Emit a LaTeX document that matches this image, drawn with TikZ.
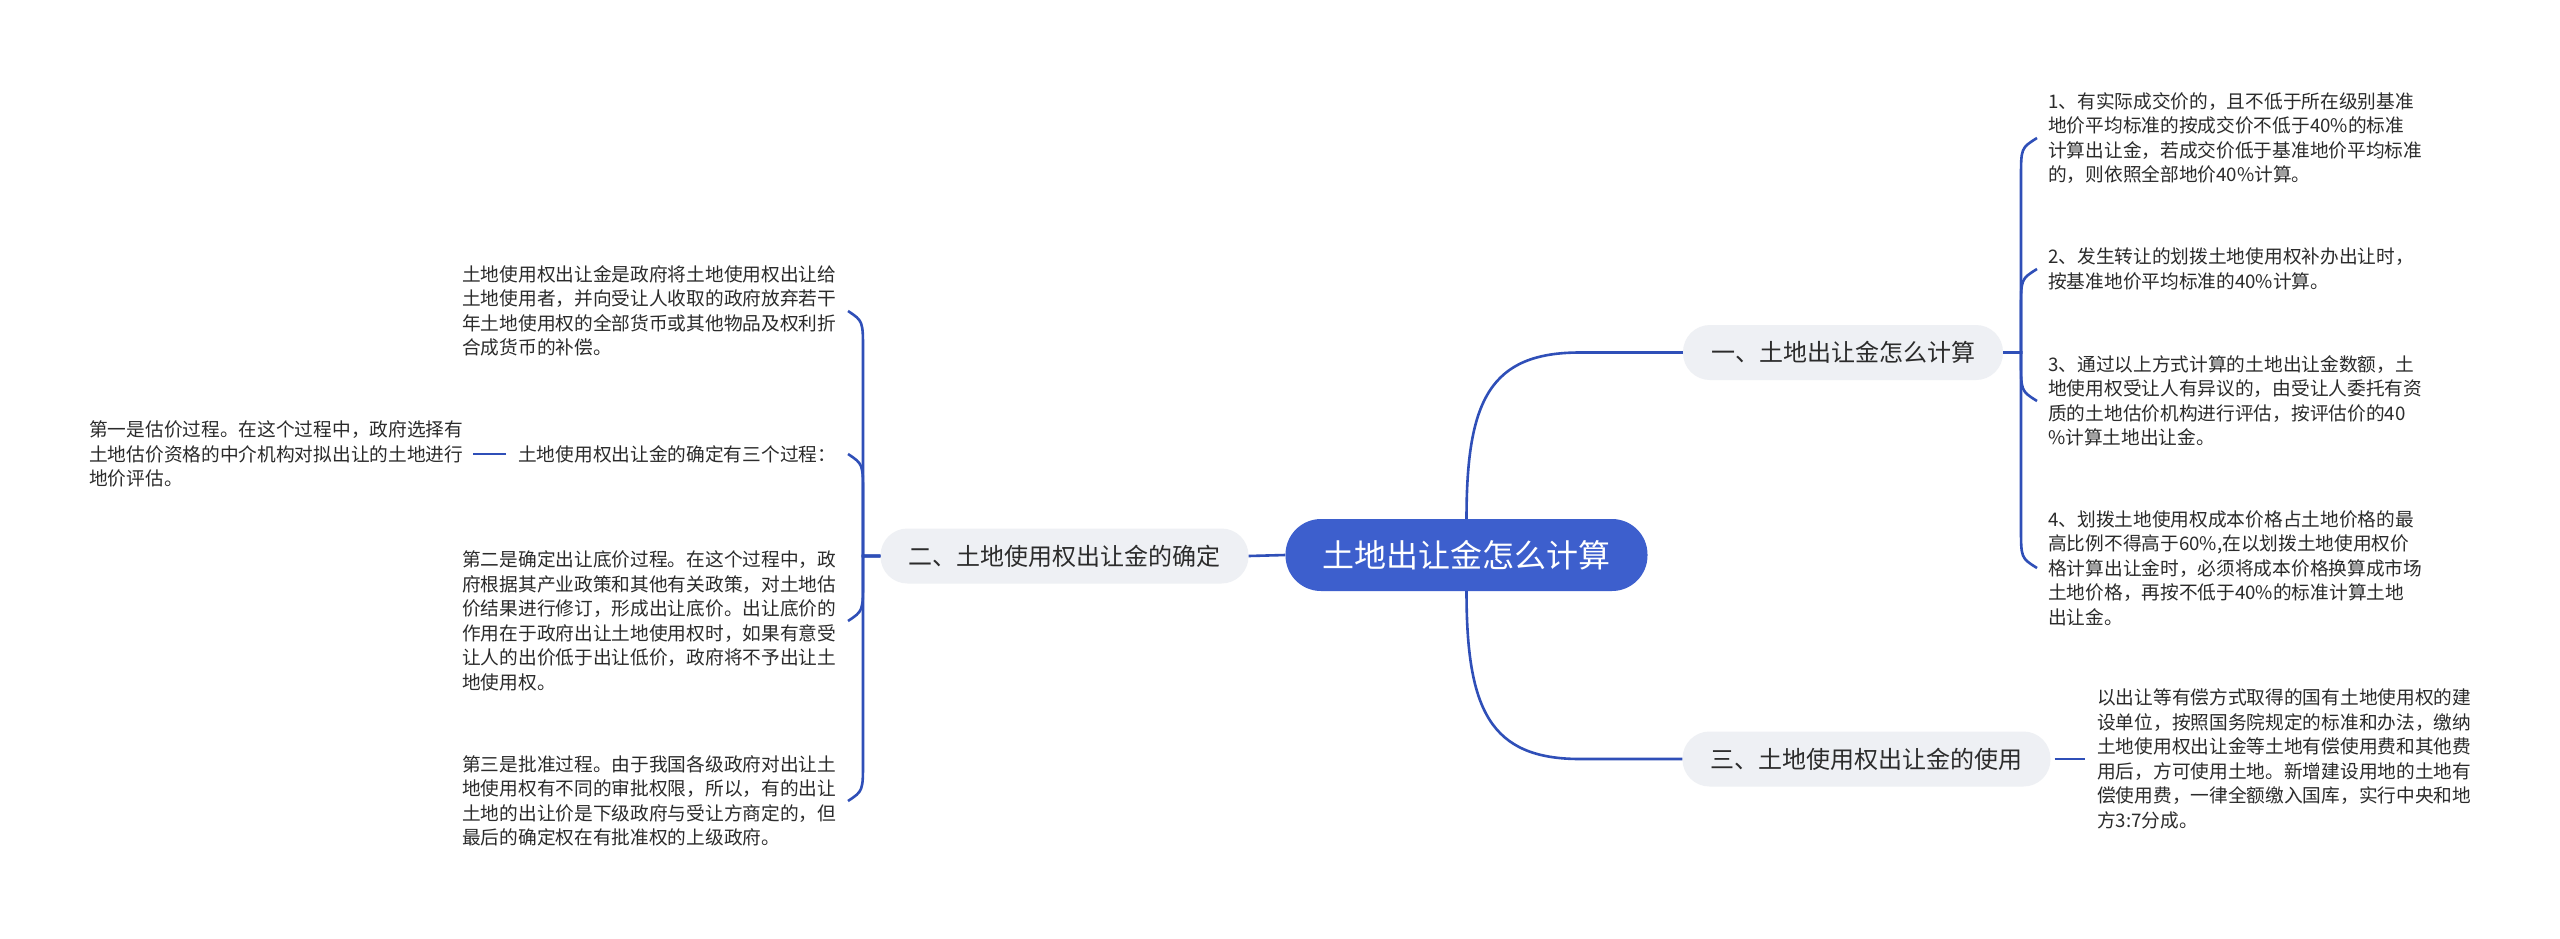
\documentclass[tikz,border=0pt]{standalone}
\usepackage{fontspec}
\setmainfont{Noto Sans CJK SC}
\definecolor{linec}{HTML}{2F4FB8}
\definecolor{centerc}{HTML}{3D5FCD}
\definecolor{graybg}{HTML}{EEF0F4}
\definecolor{txt}{HTML}{2B2B2B}
\begin{document}
\begin{tikzpicture}[x=1pt,y=-1pt,
 conn/.style={draw=linec,line width=2.6pt},
 root/.style={fill=centerc,text=white,rounded corners=35.5pt,minimum height=72pt,inner xsep=37pt,inner ysep=0pt,font=\fontsize{32pt}{36pt}\selectfont},
 branch/.style={fill=graybg,text=txt,rounded corners=27pt,minimum height=55pt,inner xsep=28pt,inner ysep=0pt,font=\fontsize{24pt}{28pt}\selectfont},
 leaf/.style={text=txt,align=left,inner sep=0pt,anchor=west,font=\fontsize{18.7pt}{24.5pt}\selectfont}]
\useasboundingbox (0,0) rectangle (2560,938);
\fill[white] (0,0) rectangle (2560,938);

% main nodes
\node[root] (c) at (1466.5,555) {土地出让金怎么计算};
\node[branch] (n1) at (1843,352.5) {一、土地出让金怎么计算};
\node[branch] (n2) at (1064.5,556) {二、土地使用权出让金的确定};
\node[branch] (n3) at (1866.5,759) {三、土地使用权出让金的使用};

% right leaves
\node[leaf] (r1) at (2048,138) {1、有实际成交价的，且不低于所在级别基准\\地价平均标准的按成交价不低于40\%的标准\\计算出让金，若成交价低于基准地价平均标准\\的，则依照全部地价40\%计算。};
\node[leaf] (r2) at (2048,269) {2、发生转让的划拨土地使用权补办出让时，\\按基准地价平均标准的40\%计算。};
\node[leaf] (r3) at (2048,401) {3、通过以上方式计算的土地出让金数额，土\\地使用权受让人有异议的，由受让人委托有资\\质的土地估价机构进行评估，按评估价的40\\\%计算土地出让金。};
\node[leaf] (r4) at (2048,568) {4、划拨土地使用权成本价格占土地价格的最\\高比例不得高于60\%,在以划拨土地使用权价\\格计算出让金时，必须将成本价格换算成市场\\土地价格，再按不低于40\%的标准计算土地\\出让金。};
\node[leaf] (t3) at (2097,759) {以出让等有偿方式取得的国有土地使用权的建\\设单位，按照国务院规定的标准和办法，缴纳\\土地使用权出让金等土地有偿使用费和其他费\\用后，方可使用土地。新增建设用地的土地有\\偿使用费，一律全额缴入国库，实行中央和地\\方3:7分成。};

% left leaves
\node[leaf] (la) at (462,311) {土地使用权出让金是政府将土地使用权出让给\\土地使用者，并向受让人收取的政府放弃若干\\年土地使用权的全部货币或其他物品及权利折\\合成货币的补偿。};
\node[leaf] (lb) at (518,454) {土地使用权出让金的确定有三个过程：};
\node[leaf] (lc) at (89,454) {第一是估价过程。在这个过程中，政府选择有\\土地估价资格的中介机构对拟出让的土地进行\\地价评估。};
\node[leaf] (ld) at (462,621) {第二是确定出让底价过程。在这个过程中，政\\府根据其产业政策和其他有关政策，对土地估\\价结果进行修订，形成出让底价。出让底价的\\作用在于政府出让土地使用权时，如果有意受\\让人的出价低于出让低价，政府将不予出让土\\地使用权。};
\node[leaf] (le) at (462,801) {第三是批准过程。由于我国各级政府对出让土\\地使用权有不同的审批权限，所以，有的出让\\土地的出让价是下级政府与受让方商定的，但\\最后的确定权在有批准权的上级政府。};

% brace end coordinates
\coordinate (r1e) at (2037,138);
\coordinate (r2e) at (2037,269);
\coordinate (r3e) at (2037,401);
\coordinate (r4e) at (2037,568);
\coordinate (lae) at (848,311);
\coordinate (lbe) at (848,454);
\coordinate (lde) at (848,621);
\coordinate (lee) at (848,801);

% center connectors
\draw[conn] (c.north) .. controls (1466.5,400) and (1490,352.5) .. (1580,352.5) -- (n1.west);
\draw[conn] (c.south) .. controls (1466.5,710) and (1490,759) .. (1580,759) -- (n3.west);
\draw[conn] (c.west) -- (n2.east);

% right brace
\draw[conn] (n1.east) -- (2021,352.5) -- (2021,178) .. controls (2021,148) .. (r1e);
\draw[conn] (n1.east) -- (2021,352.5) -- (2021,309) .. controls (2021,279) .. (r2e);
\draw[conn] (n1.east) -- (2021,352.5) -- (2021,361) .. controls (2021,391) .. (r3e);
\draw[conn] (n1.east) -- (2021,352.5) -- (2021,528) .. controls (2021,558) .. (r4e);

% left brace
\draw[conn] (n2.west) -- (863,556) -- (863,351) .. controls (863,321) .. (lae);
\draw[conn] (n2.west) -- (863,556) -- (863,494) .. controls (863,464) .. (lbe);
\draw[conn] (n2.west) -- (863,556) -- (863,581) .. controls (863,611) .. (lde);
\draw[conn] (n2.west) -- (863,556) -- (863,761) .. controls (863,791) .. (lee);

% short links
\draw[conn,shorten <=12pt,shorten >=10pt] (lb.west) -- (lc.east);
\draw[conn,shorten <=4pt,shorten >=12pt] (n3.east) -- (t3.west);
\end{tikzpicture}
\end{document}
